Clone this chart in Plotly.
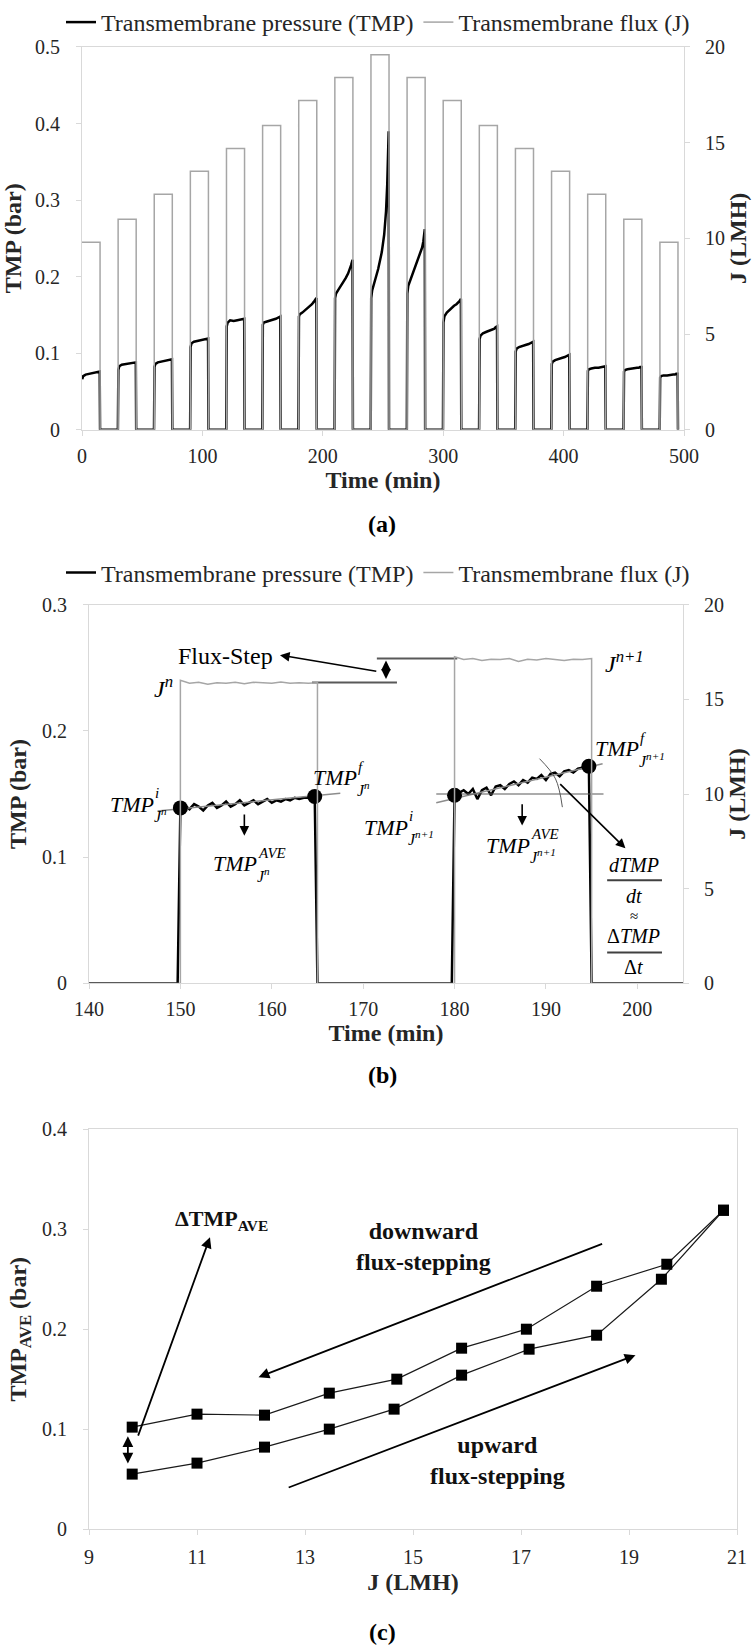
import plotly.graph_objects as go

FONT = "Liberation Serif"
AX = "#d9d9d9"
TXT = "#262626"
W, H = 756, 1651

# ---------------- Panel (a) data ----------------
step_start_a = [0, 30, 60, 90, 120, 150, 180, 210, 240, 270, 300, 330, 360, 390, 420, 450, 480]
step_len_a = 15
flux_a = [9.8, 11.0, 12.3, 13.5, 14.7, 15.9, 17.2, 18.4, 19.6, 18.4, 17.2, 15.9, 14.7, 13.5, 12.3, 11.0, 9.8]
rel_t_a = [0.2, 1, 3, 6, 9, 11, 12.5, 13.5, 14.7]
tmp_a_steps = [
    [0.066, 0.070, 0.072, 0.073, 0.074, 0.075, 0.075, 0.076, 0.076],
    [0.078, 0.083, 0.085, 0.086, 0.087, 0.087, 0.088, 0.088, 0.088],
    [0.082, 0.086, 0.088, 0.089, 0.090, 0.091, 0.091, 0.092, 0.092],
    [0.108, 0.113, 0.115, 0.116, 0.117, 0.117, 0.118, 0.118, 0.119],
    [0.135, 0.140, 0.143, 0.142, 0.143, 0.144, 0.144, 0.145, 0.145],
    [0.137, 0.140, 0.141, 0.142, 0.144, 0.145, 0.146, 0.147, 0.148],
    [0.148, 0.151, 0.153, 0.157, 0.161, 0.164, 0.167, 0.169, 0.172],
    [0.172, 0.178, 0.183, 0.190, 0.198, 0.204, 0.210, 0.215, 0.222],
    [0.172, 0.182, 0.192, 0.210, 0.232, 0.255, 0.285, 0.320, 0.390],
    [0.178, 0.188, 0.197, 0.210, 0.222, 0.230, 0.238, 0.246, 0.262],
    [0.140, 0.148, 0.153, 0.158, 0.162, 0.164, 0.166, 0.168, 0.171],
    [0.118, 0.123, 0.126, 0.128, 0.130, 0.131, 0.132, 0.134, 0.135],
    [0.102, 0.106, 0.108, 0.110, 0.111, 0.112, 0.113, 0.114, 0.115],
    [0.086, 0.089, 0.091, 0.093, 0.094, 0.095, 0.096, 0.097, 0.098],
    [0.077, 0.079, 0.080, 0.081, 0.081, 0.082, 0.082, 0.083, 0.083],
    [0.076, 0.078, 0.079, 0.080, 0.080, 0.081, 0.081, 0.082, 0.082],
    [0.068, 0.070, 0.071, 0.071, 0.072, 0.072, 0.072, 0.073, 0.073],
]
ticks_a_x = [0, 100, 200, 300, 400, 500]
ticks_a_tmp = [0, 0.1, 0.2, 0.3, 0.4, 0.5]
ticks_a_j = [0, 5, 10, 15, 20]

# ---------------- Panel (b) data ----------------
steps_b = [150, 180]
tmp_b_n = [0.139, 0.141, 0.138, 0.142, 0.140, 0.137, 0.141, 0.143, 0.139, 0.141,
           0.144, 0.140, 0.142, 0.145, 0.141, 0.143, 0.145, 0.142, 0.144, 0.146,
           0.143, 0.145, 0.144, 0.146, 0.145, 0.147, 0.146, 0.147, 0.147, 0.148]
tmp_b_n1 = [0.149, 0.151, 0.153, 0.150, 0.154, 0.146, 0.153, 0.155, 0.149, 0.156,
            0.157, 0.154, 0.158, 0.160, 0.157, 0.161, 0.159, 0.163, 0.162, 0.165,
            0.161, 0.166, 0.167, 0.164, 0.168, 0.169, 0.167, 0.170, 0.171, 0.172]
flux_b_n = [16.0, 15.85, 15.9, 15.8, 15.88, 15.85, 15.9, 15.82, 15.9, 15.87, 15.85, 15.92, 15.85, 15.88, 15.85, 15.87]
flux_b_n1 = [17.25, 17.1, 17.15, 17.05, 17.12, 17.1, 17.15, 17.0, 17.12, 17.08, 17.15, 17.1, 17.05, 17.12, 17.1, 17.15]
ticks_b_x = [140, 150, 160, 170, 180, 190, 200]
ticks_b_tmp = [0, 0.1, 0.2, 0.3]
ticks_b_j = [0, 5, 10, 15, 20]

# ---------------- Panel (c) data ----------------
j_up = [9.8, 11.0, 12.25, 13.45, 14.65, 15.9, 17.15, 18.4, 19.6, 20.75]
tmp_up = [0.055, 0.066, 0.082, 0.100, 0.120, 0.154, 0.180, 0.194, 0.250, 0.319]
j_down = [20.75, 19.7, 18.4, 17.1, 15.9, 14.7, 13.45, 12.25, 11.0, 9.8]
tmp_down = [0.319, 0.265, 0.243, 0.200, 0.181, 0.150, 0.136, 0.114, 0.115, 0.102]
ticks_c_x = [9, 11, 13, 15, 17, 19, 21]
ticks_c_y = [0, 0.1, 0.2, 0.3, 0.4]

# ---------------- build series ----------------
ta, va, tfa, vfa = [], [], [], []
for t0, J, prof in zip(step_start_a, flux_a, tmp_a_steps):
    if t0 > 0:
        ta.append(t0 - 0.2); va.append(0)
        tfa.append(t0); vfa.append(0)
    for rt, v in zip(rel_t_a, prof):
        ta.append(t0 + rt); va.append(v)
    ta.append(t0 + step_len_a); va.append(0)
    tfa += [t0, t0 + step_len_a, t0 + step_len_a]
    vfa += [J, J, 0]

tb, vb, tfb, vfb = [140], [0], [140], [0]
mk_t, mk_v = [], []
for t0, prof, fl in zip(steps_b, [tmp_b_n, tmp_b_n1], [flux_b_n, flux_b_n1]):
    times = [t0 + 0.5 * k for k in range(len(prof) - 1)] + [t0 + 14.7]
    tb.append(t0 - 0.3); vb.append(0)
    tb += times; vb += prof
    tb.append(t0 + 15); vb.append(0)
    mk_t += [times[0], times[-1]]; mk_v += [prof[0], prof[-1]]
    ftimes = [t0 + k for k in range(len(fl))]
    tfb.append(t0); vfb.append(0)
    tfb += ftimes; vfb += fl
    tfb.append(t0 + 15); vfb.append(0)
tb.append(205); vb.append(0)
tfb.append(205); vfb.append(0)

fig = go.Figure()
TMP_NAME = "Transmembrane pressure (TMP)"
J_NAME = "Transmembrane flux (J)"

fig.add_trace(go.Scatter(x=ta, y=va, mode="lines", line=dict(color="black", width=2.5),
                         name=TMP_NAME, xaxis="x", yaxis="y", legend="legend"))
fig.add_trace(go.Scatter(x=tfa, y=vfa, mode="lines", line=dict(color="#a6a6a6", width=1.5),
                         name=J_NAME, xaxis="x", yaxis="y2", legend="legend"))

fig.add_trace(go.Scatter(x=tb, y=vb, mode="lines", line=dict(color="black", width=2.5),
                         name=TMP_NAME, xaxis="x2", yaxis="y3", legend="legend2"))
fig.add_trace(go.Scatter(x=tfb, y=vfb, mode="lines", line=dict(color="#a6a6a6", width=1.5),
                         name=J_NAME, xaxis="x2", yaxis="y4", legend="legend2"))

# panel (b) helper lines
trend_t = [[147.5, 167.5], [178.0, 196.2]]
trend_v = [[0.1365, 0.1507], [0.143, 0.174]]
for tt, vv in zip(trend_t, trend_v):
    fig.add_trace(go.Scatter(x=tt, y=vv, mode="lines", line=dict(color="#8c8c8c", width=1.5),
                             xaxis="x2", yaxis="y3", showlegend=False, hoverinfo="skip"))
fig.add_trace(go.Scatter(x=[178.0, 196.3], y=[0.150, 0.150], mode="lines",
                         line=dict(color="#595959", width=1.2), xaxis="x2", yaxis="y3",
                         showlegend=False, hoverinfo="skip"))
fig.add_trace(go.Scatter(x=[189.3, 191.05, 191.8], y=[0.178, 0.162, 0.1396], mode="lines",
                         line=dict(color="#595959", width=1, shape="spline"), xaxis="x2", yaxis="y3",
                         showlegend=False, hoverinfo="skip"))
# flux-step level lines
fig.add_trace(go.Scatter(x=[164.4, 173.7], y=[0.2383, 0.2383], mode="lines",
                         line=dict(color="#595959", width=2), xaxis="x2", yaxis="y3",
                         showlegend=False, hoverinfo="skip"))
fig.add_trace(go.Scatter(x=[171.5, 180.3], y=[0.2573, 0.2573], mode="lines",
                         line=dict(color="#595959", width=2), xaxis="x2", yaxis="y3",
                         showlegend=False, hoverinfo="skip"))
# markers
fig.add_trace(go.Scatter(x=mk_t, y=mk_v, mode="markers", marker=dict(color="black", size=15),
                         xaxis="x2", yaxis="y3", showlegend=False, hoverinfo="skip"))
# fraction bars
for yb in [0.0816, 0.0245]:
    fig.add_trace(go.Scatter(x=[196.7, 202.7], y=[yb, yb], mode="lines",
                             line=dict(color="#404040", width=2), xaxis="x2", yaxis="y3",
                             showlegend=False, hoverinfo="skip"))

# panel (c)
for jj, tv in [(j_up, tmp_up), (j_down, tmp_down)]:
    fig.add_trace(go.Scatter(x=jj, y=tv, mode="lines+markers",
                             line=dict(color="#1a1a1a", width=1.2),
                             marker=dict(symbol="square", size=11, color="black"),
                             xaxis="x3", yaxis="y5", showlegend=False))

# ---------------- axes ----------------
tickfont = dict(family=FONT, size=20, color=TXT)
titlefont = dict(family=FONT, size=24, color=TXT)


def ax(**kw):
    d = dict(showline=True, linecolor=AX, linewidth=1, ticks="outside", tickcolor=AX,
             ticklen=5, showgrid=False, zeroline=False, tickfont=tickfont, automargin=False,
             fixedrange=True)
    d.update(kw)
    return d


def px_x(p):
    return p / W


def px_y(p):
    return 1 - p / H


dom_a_x = [px_x(82), px_x(684)]
dom_a_y = [px_y(429), px_y(46)]
dom_b_x = [px_x(89), px_x(683)]
dom_b_y = [px_y(983), px_y(604)]
dom_c_x = [px_x(89), px_x(737)]
dom_c_y = [px_y(1529), px_y(1129)]

layout = dict(
    width=W, height=H, margin=dict(l=0, r=0, t=0, b=0),
    plot_bgcolor="white", paper_bgcolor="white",
    font=dict(family=FONT, color=TXT),
    xaxis=ax(domain=dom_a_x, anchor="y", range=[0, 500], tickvals=ticks_a_x, mirror=True,
             ticklabelstandoff=3,
             title=dict(text="<b>Time (min)</b>", font=titlefont, standoff=0)),
    yaxis=ax(domain=dom_a_y, anchor="x", range=[0, 0.5], tickvals=ticks_a_tmp,
             ticklabelstandoff=12,
             title=dict(text="<b>TMP (bar)</b>", font=titlefont, standoff=8)),
    yaxis2=ax(overlaying="y", anchor="x", side="right", range=[0, 20], tickvals=ticks_a_j,
              ticklabelstandoff=11,
              title=dict(text="<b>J (LMH)</b>", font=titlefont, standoff=3)),
    xaxis2=ax(domain=dom_b_x, anchor="y3", range=[140, 205], tickvals=ticks_b_x, mirror=True,
              ticklabelstandoff=3,
              title=dict(text="<b>Time (min)</b>", font=titlefont, standoff=0)),
    yaxis3=ax(domain=dom_b_y, anchor="x2", range=[0, 0.3], tickvals=ticks_b_tmp,
              ticklabelstandoff=12,
              title=dict(text="<b>TMP (bar)</b>", font=titlefont, standoff=8)),
    yaxis4=ax(overlaying="y3", anchor="x2", side="right", range=[0, 20], tickvals=ticks_b_j,
              ticklabelstandoff=11,
              title=dict(text="<b>J (LMH)</b>", font=titlefont, standoff=3)),
    xaxis3=ax(domain=dom_c_x, anchor="y5", range=[9, 21], tickvals=ticks_c_x, mirror=True,
              ticklabelstandoff=5,
              title=dict(text="<b>J (LMH)</b>", font=titlefont, standoff=6)),
    yaxis5=ax(domain=dom_c_y, anchor="x3", range=[0, 0.4], tickvals=ticks_c_y, mirror=True,
              ticklabelstandoff=12,
              title=dict(text="<b>TMP<sub>AVE</sub> (bar)</b>", font=titlefont, standoff=8)),
    legend=dict(orientation="h", x=0.5, xanchor="center", y=px_y(22), yanchor="middle",
                font=dict(family=FONT, size=24, color=TXT), bgcolor="rgba(0,0,0,0)",
                itemwidth=30, tracegroupgap=0),
    legend2=dict(orientation="h", x=0.5, xanchor="center", y=px_y(573), yanchor="middle",
                 font=dict(family=FONT, size=24, color=TXT), bgcolor="rgba(0,0,0,0)",
                 itemwidth=30, tracegroupgap=0),
    showlegend=True,
)
fig.update_layout(**layout)

anns = []

# panel labels
for lab, yp in [("(a)", 523), ("(b)", 1075), ("(c)", 1632)]:
    anns.append(dict(text=f"<b>{lab}</b>", x=px_x(382), y=px_y(yp), xref="paper", yref="paper",
                     showarrow=False, xanchor="center", yanchor="middle",
                     font=dict(family=FONT, size=24, color="black")))

# panel (b) math labels
MATH = dict(family=FONT, color="black")
math_labels = [
    ("TMP", "i", "J<sup>n</sup>", 147.3, 0.142),
    ("TMP", "f", "J<sup>n</sup>", 169.5, 0.163),
    ("TMP", "AVE", "J<sup>n</sup>", 158.6, 0.0948),
    ("TMP", "i", "J<sup>n+1</sup>", 175.1, 0.1238),
    ("TMP", "AVE", "J<sup>n+1</sup>", 188.5, 0.1093),
    ("TMP", "f", "J<sup>n+1</sup>", 200.4, 0.1858),
]
for main, sup, sub, xx, yy in math_labels:
    anns.append(dict(text=f"<i>{main}</i>", x=xx, y=yy, xref="x2", yref="y3", showarrow=False,
                     xanchor="right", yanchor="middle", font=dict(size=22, **MATH)))
    anns.append(dict(text=f"<i>{sup}</i>", x=xx, y=yy, xref="x2", yref="y3", showarrow=False,
                     xanchor="left", yanchor="middle", xshift=-3, yshift=11, font=dict(size=15, **MATH)))
    anns.append(dict(text=f"<i>{sub}</i>", x=xx, y=yy, xref="x2", yref="y3", showarrow=False,
                     xanchor="left", yanchor="middle", xshift=-4, yshift=-11, font=dict(size=16, **MATH)))

text_b = [
    ("<i>J<sup>n</sup></i>", 148.2, 0.235, 24),
    ("<i>J<sup>n+1</sup></i>", 198.6, 0.2545, 24),
    ("Flux-Step", 154.9, 0.2597, 24),
    ("<i>dTMP</i>", 199.6, 0.0934, 20),
    ("<i>dt</i>", 199.6, 0.0695, 20),
    ("≈", 199.6, 0.0535, 15),
    ("Δ<i>TMP</i>", 199.6, 0.0375, 20),
    ("Δ<i>t</i>", 199.6, 0.0129, 20),
]
for t, xx, yy, fs in text_b:
    anns.append(dict(text=t, x=xx, y=yy, xref="x2", yref="y3", showarrow=False, borderpad=0,
                     xanchor="center", yanchor="middle", font=dict(size=fs, **MATH)))

arrows_b = [
    # head x, head y, tail x, tail y, side
    (160.9, 0.2600, 171.6, 0.2470, "end"),
    (172.5, 0.2557, 172.5, 0.2400, "end+start"),
    (157.0, 0.1170, 157.0, 0.1350, "end"),
    (187.4, 0.1250, 187.4, 0.1430, "end"),
    (198.7, 0.1070, 191.4, 0.1590, "end"),
]
for hx, hy, tx, ty, side in arrows_b:
    anns.append(dict(text="", x=hx, y=hy, ax=tx, ay=ty, xref="x2", yref="y3", axref="x2", ayref="y3",
                     showarrow=True, arrowhead=2, arrowsize=1.2, arrowwidth=1.6, arrowcolor="black",
                     arrowside=side))

# panel (c) texts and arrows
text_c = [
    ("<b>ΔTMP<sub>AVE</sub></b>", 11.46, 0.309, 22),
    ("<b>downward<br>flux-stepping</b>", 15.2, 0.283, 24),
    ("<b>upward<br>flux-stepping</b>", 16.56, 0.069, 24),
]
for t, xx, yy, fs in text_c:
    anns.append(dict(text=t, x=xx, y=yy, xref="x3", yref="y5", showarrow=False,
                     xanchor="center", yanchor="middle", font=dict(family=FONT, size=fs, color="#111")))
arrows_c = [
    (11.24, 0.292, 9.9, 0.092, "end"),
    (9.72, 0.093, 9.72, 0.064, "end+start"),
    (12.14, 0.152, 18.53, 0.286, "end"),
    (19.12, 0.174, 12.67, 0.041, "end"),
]
for hx, hy, tx, ty, side in arrows_c:
    anns.append(dict(text="", x=hx, y=hy, ax=tx, ay=ty, xref="x3", yref="y5", axref="x3", ayref="y5",
                     showarrow=True, arrowhead=2, arrowsize=1.2, arrowwidth=1.8, arrowcolor="black",
                     arrowside=side))

fig.update_layout(annotations=anns)
fig.write_html("out.html", config={"displayModeBar": False},
               post_script="document.body.style.margin='0';document.body.style.overflow='hidden';")
